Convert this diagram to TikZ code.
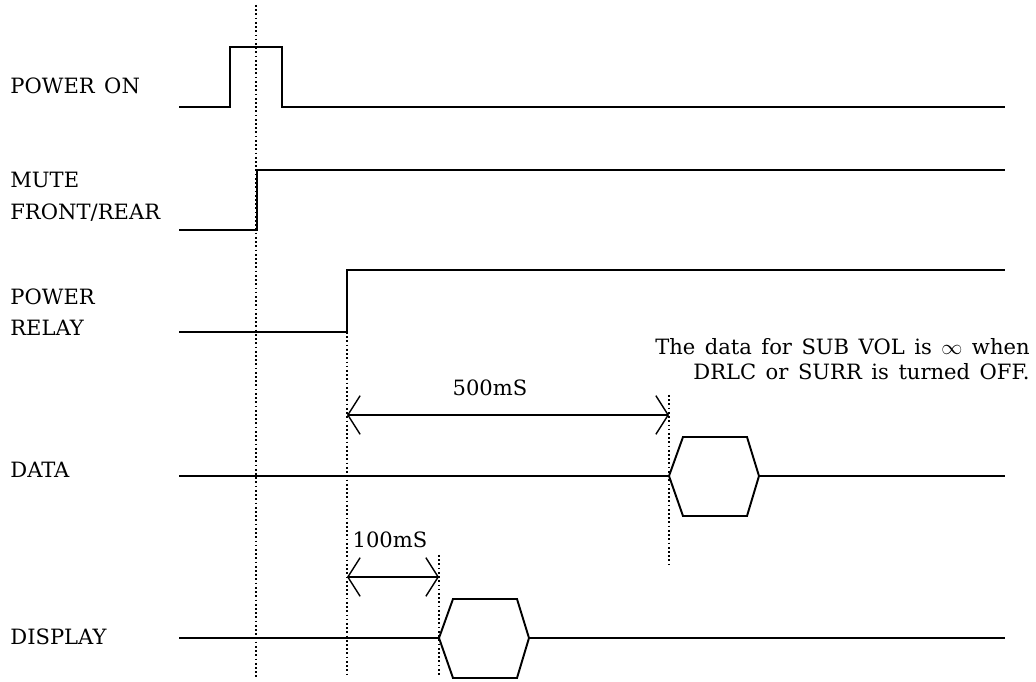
\documentclass[tikz,border=0pt]{standalone}
\usepackage{fontspec}
\setmainfont{DejaVu Serif}
\usetikzlibrary{arrows.meta}
\newcommand{\labelfont}{\fontsize{12}{17.6}\selectfont\setlength{\spaceskip}{5.4pt plus 1pt}}
\newcommand{\notefont}{\fontsize{12}{14.2}\selectfont\setlength{\spaceskip}{5.4pt plus 1pt}}
\newcommand{\busvalid}[2]{%
  \draw[wave] (#1,#2) -- ++(14,-39) -- ++(64,0) -- ++(12,39) -- ++(-12,40) -- ++(-64,0) -- cycle;
}

\begin{document}
\begin{tikzpicture}[x=0.02cm,y=-0.02cm,font=\labelfont,
    wave/.style={line width=1.1pt,line join=miter},
    guide/.style={line width=1pt,dash pattern=on 1pt off 1.4pt},
    span/.style={line width=.8pt,{Straight Barb[length=7pt,width=22pt]}-{Straight Barb[length=7pt,width=22pt]}},
    sig/.style={anchor=west,inner sep=0pt}]
  \useasboundingbox (0,0) rectangle (1036,682);
  % signal names
  \node[sig] (pwron) at (10,86) {POWER ON};
  \node[sig] (mute) at (10,180) {MUTE};
  \node[sig] (frrear) at (10,213) {FRONT/REAR};
  \node[sig] (pwr) at (10,297) {POWER};
  \node[sig] (relay) at (10,328) {RELAY};
  \node[sig] (data) at (10,470) {DATA};
  \node[sig] (disp) at (10,637) {DISPLAY};
  % waveforms
  \draw[wave] (179,107) -- (230,107) -- (230,47) -- (282,47) -- (282,107) -- (1005,107);
  \draw[wave] (179,230) -- (257,230) -- (257,170) -- (1005,170);
  \draw[wave] (179,332) -- (347,332) -- (347,270) -- (1005,270);
  \draw[wave] (179,476) -- (669,476) (759,476) -- (1005,476);
  \busvalid{669}{476}
  \draw[wave] (179,638) -- (439,638) (530,638) -- (1005,638);
  \busvalid{439}{638}
  % timing guides
  \coordinate (g0t) at (256,5);    \coordinate (g0b) at (256,677);
  \coordinate (g1t) at (347,332);  \coordinate (g1b) at (347,677);
  \coordinate (g2t) at (669,395);  \coordinate (g2b) at (669,567);
  \coordinate (g3t) at (439,555);  \coordinate (g3b) at (439,677);
  \draw[guide] (g0t) -- (g0b);
  \draw[guide] (g1t) -- (g1b);
  \draw[guide] (g2t) -- (g2b);
  \draw[guide] (g3t) -- (g3b);
  % intervals
  \coordinate (a1) at (347,415);   \coordinate (a2) at (669,415);
  \coordinate (b1) at (347,577);   \coordinate (b2) at (439,577);
  \draw[span] (a1) -- (a2);
  \draw[span] (b1) -- (b2);
  \node (t500) at (490,388) {500mS};
  \node (t100) at (390,540) {100mS};
  \node[anchor=east,align=right,inner sep=0pt,font=\notefont] (note) at (1030,359)
    {The data for SUB VOL is $\infty$ when\\DRLC or SURR is turned OFF.};
\end{tikzpicture}
\end{document}
